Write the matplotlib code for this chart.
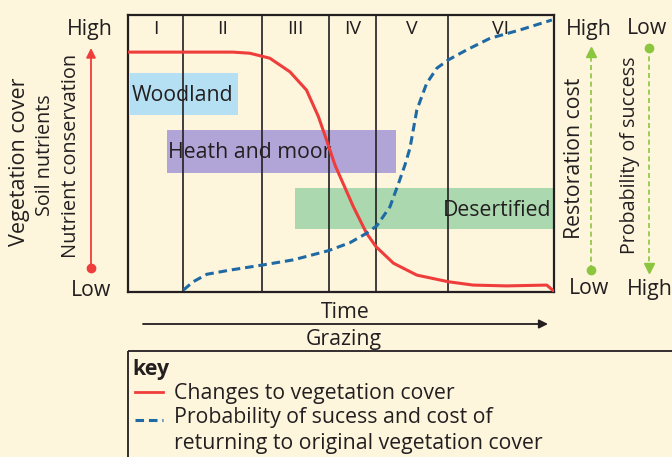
import numpy as np
import matplotlib.pyplot as plt
from matplotlib.patches import Rectangle

plt.rcParams['font.family'] = ['Open Sans', 'DejaVu Sans']

BG = '#fdf5dc'
INK = '#231f20'
RED = '#ee3d3a'
BLUE = '#1f6aa5'
GREEN = '#8cc63f'

# time axis runs 0..100, vertical scale 0 (low) .. 100 (high)
red_x = [0, 24.6, 28.6, 33.3, 38.0, 41.9, 44.7, 46.6, 48.6, 49.8, 52.9, 56.0,
         58.2, 62.3, 67.8, 75.2, 81.0, 88.9, 98.3, 99.8]
red_y = [86.6, 86.6, 86.2, 84.4, 79.5, 72.9, 63.3, 54.9, 45.8, 41.6, 30.8, 21.2,
         16.4, 10.4, 6.1, 3.7, 2.5, 2.2, 2.5, 0.5]

blue_x = [13.0, 15.3, 18.5, 23.9, 31.4, 38.8, 47.0, 52.1, 56.0, 58.4, 61.5, 63.5,
          65.0, 66.2, 67.8, 70.1, 72.5, 75.2, 79.5, 85.0, 92.0, 99.5]
blue_y = [0.7, 3.7, 6.4, 7.9, 9.7, 11.6, 14.9, 17.8, 21.2, 23.9, 30.8, 39.2,
          45.8, 52.0, 65.7, 75.3, 80.8, 83.8, 87.4, 91.6, 94.6, 98.2]

stage_edges = [0, 12.9, 31.5, 47.2, 58.2, 75.1, 100]
stage_names = ['I', 'II', 'III', 'IV', 'V', 'VI']

# vegetation zones
zone_names = ['Woodland', 'Heath and moor', 'Desertified']
zone_x = [(0.5, 25.8), (9.2, 62.9), (39.2, 100)]
zone_y = [(63.9, 79.1), (43.0, 58.5), (22.7, 37.5)]
zone_colors = ['#b5dff2', '#b1a5d8', '#acd8b0']

W, H = 672, 457
fs = 15.3

fig = plt.figure(figsize=(W / 100, H / 100), dpi=100, facecolor=BG)

# overlay in pixel units for the side labels, arrows and key
ov = fig.add_axes([0, 0, 1, 1])
ov.set_xlim(0, W)
ov.set_ylim(H, 0)
ov.axis('off')


def label(x, y, s, size=fs, **kw):
    kw.setdefault('ha', 'center')
    ov.text(x, y + 2, s, va='center', fontsize=size, color=INK, **kw)


L, R, T, B = 128, 554, 15, 292
ax = fig.add_axes([L / W, 1 - B / H, (R - L) / W, (B - T) / H])
ax.set_xlim(0, 100)
ax.set_ylim(0, 100)
ax.patch.set_alpha(0)
ax.set_xticks([])
ax.set_yticks([])
for s in ax.spines.values():
    s.set_linewidth(1.6)
    s.set_color(INK)

for name, (x0, x1), (y0, y1), c in zip(zone_names, zone_x, zone_y, zone_colors):
    ax.add_patch(Rectangle((x0, y0), x1 - x0, y1 - y0, color=c, lw=0, zorder=1))
    if name == 'Desertified':
        ax.text(x1 - 0.7, (y0 + y1) / 2 - 0.5, name, ha='right', va='center',
                fontsize=fs, color=INK, zorder=2)
    else:
        ax.text(x0 + 0.3, (y0 + y1) / 2 - 0.5, name, ha='left', va='center',
                fontsize=fs, color=INK, zorder=2)

for e in stage_edges[1:-1]:
    ax.axvline(e, color=INK, lw=1.2, zorder=3)
for i, n in enumerate(stage_names):
    ax.text((stage_edges[i] + stage_edges[i + 1]) / 2, 94.8, n, ha='center',
            va='center', fontsize=14, color=INK, zorder=2)

ax.plot(red_x, red_y, color=RED, lw=2.2, zorder=4, solid_capstyle='round')
ax.plot(blue_x, blue_y, color=BLUE, lw=2.2, ls=(0, (2.8, 1.6)), zorder=5)

# left scale
label(90, 27, 'High')
label(91, 288, 'Low')
ov.annotate('', xy=(91, 48), xytext=(91, 268),
            arrowprops=dict(arrowstyle='-|>', color=RED, lw=1.3,
                            mutation_scale=14, shrinkA=0, shrinkB=0))
ov.plot([91], [268], 'o', color=RED, ms=6)
label(20, 160, 'Vegetation cover', 15.5, rotation=90)
label(45, 153, 'Soil nutrients', 14.2, rotation=90)
label(71, 154, 'Nutrient conservation', 14.4, rotation=90)

# right scales
label(589, 27, 'High')
label(589, 287, 'Low')
label(647, 27, 'Low')
label(650, 287, 'High')
ov.plot([591, 591], [270, 52], color=GREEN, lw=1.2, ls=(0, (3, 2)))
ov.plot([591], [270], 'o', color=GREEN, ms=6)
ov.plot([591], [52], '^', color=GREEN, ms=7)
ov.plot([649, 649], [48, 268], color=GREEN, lw=1.2, ls=(0, (3, 2)))
ov.plot([649], [48], 'o', color=GREEN, ms=6)
ov.plot([649], [268], 'v', color=GREEN, ms=7)
label(575, 156, 'Restoration cost', 15.3, rotation=90)
label(630, 153, 'Probability of success', 14.2, rotation=90)

# time axis
label(345, 311, 'Time')
ov.annotate('', xy=(548, 324), xytext=(143, 324),
            arrowprops=dict(arrowstyle='-|>', color=INK, lw=1.3,
                            mutation_scale=13, shrinkA=0, shrinkB=0))
label(344, 338, 'Grazing')

# key
ov.add_patch(Rectangle((128, 351), 560, 120, fill=False, ec=INK, lw=1.3))
label(132, 367, 'key', ha='left', fontweight='bold')
ov.plot([135, 163], [392, 392], color=RED, lw=2)
label(174, 391, 'Changes to vegetation cover', ha='left')
ov.plot([135, 163], [420, 420], color=BLUE, lw=2.2, ls=(0, (2.8, 1.6)))
label(174, 416, 'Probability of sucess and cost of', ha='left')
label(174, 442, 'returning to original vegetation cover', ha='left')

fig.savefig('out.png', dpi=100, facecolor=BG)
